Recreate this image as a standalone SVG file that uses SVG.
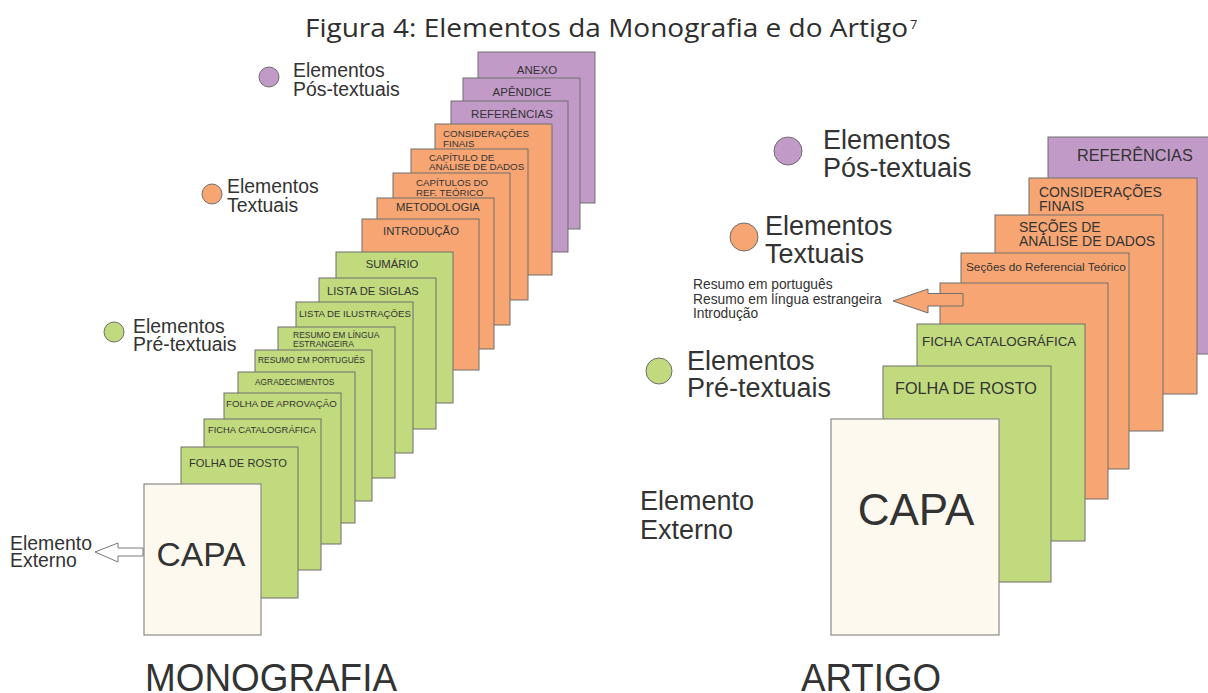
<svg xmlns="http://www.w3.org/2000/svg" width="1208" height="693" viewBox="0 0 1208 693">
<style>
.p{fill:#C29AC8;stroke:#6f6f6f;stroke-width:1}
.o{fill:#F7A673;stroke:#6f6f6f;stroke-width:1}
.g{fill:#C1DA7E;stroke:#6f6f6f;stroke-width:1}
.c{fill:#FDF9EE;stroke:#8a8a8a;stroke-width:1.2}
text{font-family:"Liberation Sans",Arial,sans-serif;fill:#333}
.lg{font-size:19.4px}
.rg{font-size:27px}
.m{text-anchor:middle}
.t{font-family:"Open Sans","Noto Sans",sans-serif;font-weight:normal;fill:#2e2e2e}
</style>
<rect width="1208" height="693" fill="#fff"/>
<text class="t" x="305" y="37" font-size="25" textLength="603" lengthAdjust="spacingAndGlyphs">Figura 4: Elementos da Monografia e do Artigo</text>
<text class="t" x="910" y="29" font-size="13">7</text>

<g id="legend-left">
<circle cx="269" cy="77" r="10" fill="#C29AC8" stroke="#6f6f6f"/>
<text class="lg" x="293" y="77">Elementos</text><text class="lg" x="293" y="96">Pós-textuais</text>
<circle cx="212" cy="194" r="10" fill="#F7A673" stroke="#6f6f6f"/>
<text class="lg" x="227" y="193">Elementos</text><text class="lg" x="227" y="212">Textuais</text>
<circle cx="114" cy="332" r="10" fill="#C1DA7E" stroke="#6f6f6f"/>
<text class="lg" x="133" y="333">Elementos</text><text class="lg" x="133" y="351">Pré-textuais</text>
<text class="lg" x="10" y="550">Elemento</text><text class="lg" x="10" y="567">Externo</text>
</g>

<g id="mono-anexo"><rect class="p" x="478" y="52" width="117" height="151"/><text class="m" x="537" y="74" font-size="11.5">ANEXO</text></g>
<g id="mono-apendice"><rect class="p" x="463" y="78" width="117" height="151"/><text class="m" x="522" y="96" font-size="11.5">APÊNDICE</text></g>
<g id="mono-referencias"><rect class="p" x="451" y="101" width="117" height="151"/><text class="m" x="512" y="118" font-size="11.5">REFERÊNCIAS</text></g>
<g id="mono-consideracoes"><rect class="o" x="435" y="124" width="117" height="151"/><text x="443" y="137" font-size="9.8">CONSIDERAÇÕES</text><text x="443" y="147" font-size="9.8">FINAIS</text></g>
<g id="mono-cap-analise"><rect class="o" x="411" y="149" width="117" height="151"/><text x="429" y="161" font-size="9.8">CAPÍTULO DE</text><text x="429" y="170" font-size="9.8">ANÁLISE DE DADOS</text></g>
<g id="mono-cap-ref"><rect class="o" x="393" y="173" width="117" height="152"/><text x="416" y="186" font-size="9.7">CAPÍTULOS DO</text><text x="416" y="196" font-size="9.7">REF. TEÓRICO</text></g>
<g id="mono-metodologia"><rect class="o" x="377" y="198" width="117" height="151"/><text x="396" y="211" font-size="11.3">METODOLOGIA</text></g>
<g id="mono-introducao"><rect class="o" x="362" y="219" width="117" height="151"/><text x="383" y="235" font-size="11.3">INTRODUÇÃO</text></g>
<g id="mono-sumario"><rect class="g" x="336" y="252" width="117" height="151"/><text class="m" x="392" y="268" font-size="11.3">SUMÁRIO</text></g>
<g id="mono-siglas"><rect class="g" x="319" y="278" width="117" height="151"/><text x="327" y="295" font-size="11.2">LISTA DE SIGLAS</text></g>
<g id="mono-ilustracoes"><rect class="g" x="296" y="302" width="117" height="151"/><text x="299" y="317" font-size="9.6">LISTA DE ILUSTRAÇÕES</text></g>
<g id="mono-resumo-lingua"><rect class="g" x="278" y="327" width="117" height="151"/><text x="293" y="338" font-size="8.5">RESUMO EM LÍNGUA</text><text x="293" y="347" font-size="8.5">ESTRANGEIRA</text></g>
<g id="mono-resumo-port"><rect class="g" x="255" y="350" width="117" height="151"/><text x="258" y="363" font-size="8.4">RESUMO EM PORTUGUÊS</text></g>
<g id="mono-agradecimentos"><rect class="g" x="238" y="372" width="117" height="151"/><text x="255" y="385" font-size="8.4">AGRADECIMENTOS</text></g>
<g id="mono-aprovacao"><rect class="g" x="224" y="393" width="117" height="151"/><text x="226" y="407" font-size="9.7">FOLHA DE APROVAÇÃO</text></g>
<g id="mono-ficha"><rect class="g" x="204" y="419" width="117" height="151"/><text x="208" y="433" font-size="9.4">FICHA CATALOGRÁFICA</text></g>
<g id="mono-rosto"><rect class="g" x="181" y="447" width="117" height="151"/><text x="189" y="467" font-size="11.2">FOLHA DE ROSTO</text></g>
<g id="mono-capa"><rect class="c" x="144" y="484" width="117" height="151"/><text class="m" x="201" y="566" font-size="34" textLength="89" lengthAdjust="spacingAndGlyphs">CAPA</text></g>
<text x="145" y="691" font-size="38" textLength="252" lengthAdjust="spacingAndGlyphs">MONOGRAFIA</text>

<g id="legend-right">
<circle cx="788" cy="151" r="14" fill="#C29AC8" stroke="#6f6f6f"/>
<text class="rg" x="823" y="149">Elementos</text><text class="rg" x="823" y="177">Pós-textuais</text>
<circle cx="744" cy="237" r="14" fill="#F7A673" stroke="#6f6f6f"/>
<text class="rg" x="765" y="235">Elementos</text><text class="rg" x="765" y="263">Textuais</text>
<circle cx="659" cy="371" r="13" fill="#C1DA7E" stroke="#6f6f6f"/>
<text class="rg" x="687" y="370">Elementos</text><text class="rg" x="687" y="397">Pré-textuais</text>
<text class="rg" x="640" y="510">Elemento</text><text class="rg" x="640" y="539">Externo</text>
<text x="693" y="289" font-size="13.8">Resumo em português</text>
<text x="693" y="304" font-size="13.8">Resumo em língua estrangeira</text>
<text x="693" y="318" font-size="13.8">Introdução</text>
</g>

<g id="art-referencias"><rect class="p" x="1048" y="137" width="168" height="217"/><text x="1077" y="161" font-size="16.3">REFERÊNCIAS</text></g>
<g id="art-consideracoes"><rect class="o" x="1029" y="178" width="168" height="216"/><text x="1039" y="197" font-size="14">CONSIDERAÇÕES</text><text x="1039" y="211" font-size="14">FINAIS</text></g>
<g id="art-secoes-analise"><rect class="o" x="995" y="215" width="168" height="216"/><text x="1019" y="232" font-size="14">SEÇÕES DE</text><text x="1019" y="246" font-size="14">ANÁLISE DE DADOS</text></g>
<g id="art-secoes-ref"><rect class="o" x="961" y="253" width="168" height="216"/><text x="966" y="271" font-size="11.8">Seções do Referencial Teórico</text></g>
<g id="art-introducao"><rect class="o" x="940" y="283" width="168" height="216"/></g>
<g id="art-ficha"><rect class="g" x="917" y="324" width="168" height="217"/><text x="922" y="346" font-size="13.4">FICHA CATALOGRÁFICA</text></g>
<g id="art-rosto"><rect class="g" x="883" y="366" width="168" height="216"/><text x="895" y="394" font-size="16.2">FOLHA DE ROSTO</text></g>
<g id="art-capa"><rect class="c" x="831" y="419" width="168" height="216"/><text class="m" x="916" y="525" font-size="44">CAPA</text></g>
<text x="801" y="691" font-size="38" textLength="140" lengthAdjust="spacingAndGlyphs">ARTIGO</text>

<g id="connectors">
<polygon points="95,552 118,543 118,548 143,548 143,556 118,556 118,562" fill="#fff" stroke="#7a7a7a" stroke-width="1"/>
<polygon points="893,301 928,289 928,293.5 963,293.5 963,306 928,306 928,313" fill="#F7A673" stroke="#6f6f6f" stroke-width="1"/>
</g>
</svg>
